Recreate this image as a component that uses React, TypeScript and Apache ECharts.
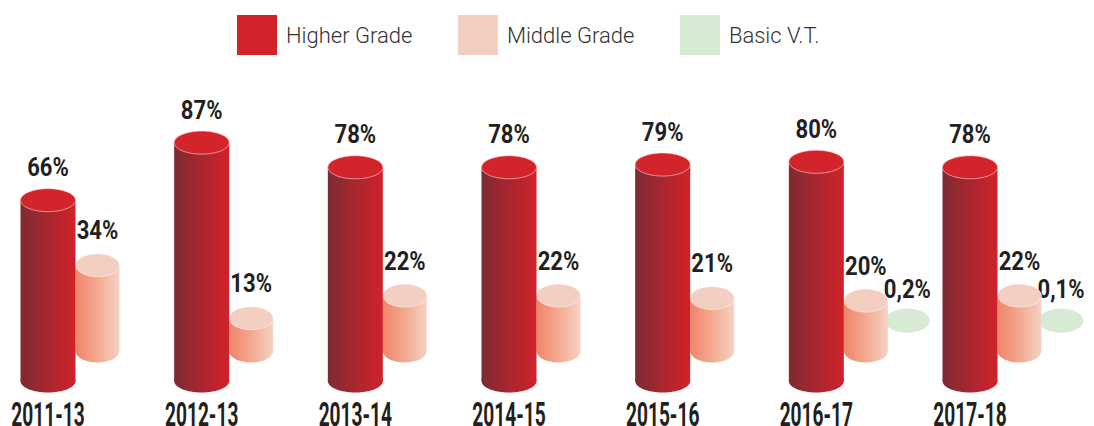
import React, { useEffect, useRef } from "react";
import * as echarts from "echarts";

const categories = ["2011-13", "2012-13", "2013-14", "2014-15", "2015-16", "2016-17", "2017-18"];
const higherGrade = [66, 87, 78, 78, 79, 80, 78];
const middleGrade = [34, 13, 22, 22, 21, 20, 22];
const basicVT: (number | null)[] = [null, null, null, null, null, 0.2, 0.1];

const FONT = "Roboto, 'Noto Sans', sans-serif";
const INK = "#231f20";

function fmt(v: number) {
  return String(v).replace(".", ",") + "%";
}

function makeRender(cfg: {
  ratio: number;
  sideFrom: string;
  sideMid: string;
  sideTo: string;
  topColor: string;
  topStroke: string;
  gap: number;
  withCategory?: boolean;
}) {
  return (params: any, api: any) => {
    const idx = api.value(0);
    const v = api.value(1);
    const base = api.coord([idx, 0]);
    const top = api.coord([idx, v]);
    const band = api.coord([1, 0])[0] - api.coord([0, 0])[0];
    const rx = (band * cfg.ratio) / 2;
    const ry = band * 0.075;
    const cx = base[0];
    const yb = base[1];
    const yt = Math.min(top[1], yb - 0.5);
    const grad = () =>
      new echarts.graphic.LinearGradient(0, 0, 1, 0, [
        { offset: 0, color: cfg.sideFrom },
        { offset: 0.5, color: cfg.sideMid },
        { offset: 1, color: cfg.sideTo },
      ]);
    const children: any[] = [
      { type: "ellipse", shape: { cx, cy: yb, rx, ry }, style: { fill: grad() } },
      { type: "rect", shape: { x: cx - rx, y: yt, width: rx * 2, height: yb - yt }, style: { fill: grad() } },
      {
        type: "ellipse",
        shape: { cx, cy: yt, rx, ry },
        style: { fill: cfg.topColor, stroke: cfg.topStroke, lineWidth: 0.8 },
      },
      {
        type: "text",
        x: cx,
        y: yt - ry - cfg.gap,
        scaleX: 0.85,
        style: {
          text: fmt(v),
          align: "center",
          verticalAlign: "middle",
          fontSize: 26,
          fontWeight: "bold",
          fontFamily: FONT,
          fill: INK,
        },
      },
    ];
    if (cfg.withCategory) {
      children.push({
        type: "text",
        x: cx,
        y: yb + 34,
        scaleX: 0.58,
        style: {
          text: categories[idx],
          align: "center",
          verticalAlign: "middle",
          fontSize: 33,
          fontWeight: "bold",
          fontFamily: FONT,
          fill: INK,
        },
      });
    }
    return { type: "group", children };
  };
}

export default function App() {
  const ref = useRef<HTMLDivElement>(null);
  useEffect(() => {
    document.body.style.margin = "0";
    const chart = echarts.init(ref.current!, null, { renderer: "svg" });
    const hiddenX = (gi: number) => ({
      type: "category",
      gridIndex: gi,
      data: categories,
      boundaryGap: false,
      show: false,
    });
    const hiddenY = (gi: number) => ({ type: "value", gridIndex: gi, min: 0, max: 100, show: false });
    chart.setOption({
      animation: false,
      legend: {
        left: 237,
        top: 15,
        padding: 0,
        itemWidth: 40,
        itemHeight: 40,
        itemGap: 45.5,
        icon: "rect",
        data: ["Higher Grade", "Middle Grade", "Basic V.T."],
        textStyle: {
          fontSize: 22,
          fontFamily: FONT,
          fontWeight: 300,
          color: "#333333",
          width: 133,
          padding: [0, 0, 14, 4],
        },
      },
      grid: [
        { left: 48, right: 124, top: 107, bottom: 45, outerBoundsMode: "none", containLabel: false },
        { left: 97.5, right: 74.5, top: 99, bottom: 75, outerBoundsMode: "none", containLabel: false },
        { left: 139, right: 33, top: 69, bottom: 105, outerBoundsMode: "none", containLabel: false },
      ],
      xAxis: [hiddenX(0), hiddenX(1), hiddenX(2)],
      yAxis: [hiddenY(0), hiddenY(1), hiddenY(2)],
      series: [
        {
          name: "Higher Grade",
          type: "custom",
          xAxisIndex: 0,
          yAxisIndex: 0,
          z: 3,
          itemStyle: { color: "#d2232a" },
          data: higherGrade.map((v, i) => [i, v]),
          renderItem: makeRender({
            ratio: 0.358,
            sideFrom: "#7e2a32",
            sideMid: "#a9262f",
            sideTo: "#d0222a",
            topColor: "#d3232b",
            topStroke: "rgba(255,210,210,0.8)",
            gap: 21,
            withCategory: true,
          }),
        },
        {
          name: "Middle Grade",
          type: "custom",
          xAxisIndex: 1,
          yAxisIndex: 1,
          z: 2,
          itemStyle: { color: "#f3cfc2" },
          data: middleGrade.map((v, i) => [i, v]),
          renderItem: makeRender({
            ratio: 0.286,
            sideFrom: "#f0846a",
            sideMid: "#f3a98f",
            sideTo: "#f6d2c5",
            topColor: "#f3cfc2",
            topStroke: "rgba(255,255,255,0.6)",
            gap: 23,
          }),
        },
        {
          name: "Basic V.T.",
          type: "custom",
          xAxisIndex: 2,
          yAxisIndex: 2,
          z: 1,
          itemStyle: { color: "#d7ead4" },
          data: basicVT
            .map((v, i) => (v == null ? null : [i, v]))
            .filter((d) => d != null),
          renderItem: makeRender({
            ratio: 0.286,
            sideFrom: "#d7ead4",
            sideMid: "#d7ead4",
            sideTo: "#d7ead4",
            topColor: "#d7ead4",
            topStroke: "rgba(215,234,212,1)",
            gap: 20,
          }),
        },
      ],
    });
    return () => chart.dispose();
  }, []);
  return <div ref={ref} style={{ width: 1094, height: 426 }} />;
}
